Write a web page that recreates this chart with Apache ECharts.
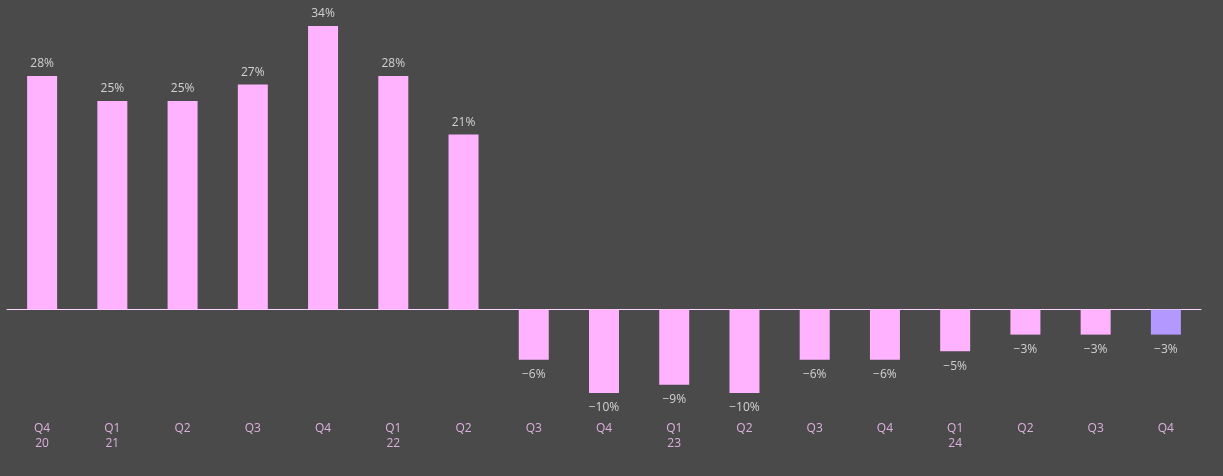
<!DOCTYPE html>
<html>
<head>
<meta charset="utf-8">
<script src="https://cdn.jsdelivr.net/npm/echarts@6/dist/echarts.min.js"></script>
<style>
html,body{margin:0;padding:0;background:#4a4a4a;}
#chart{width:1223px;height:476px;}
</style>
</head>
<body>
<div id="chart"></div>
<script>
const categories = ["Q4\n20","Q1\n21","Q2","Q3","Q4","Q1\n22","Q2","Q3","Q4","Q1\n23","Q2","Q3","Q4","Q1\n24","Q2","Q3","Q4"];
const values = [28,25,25,27,34,28,21,-6,-10,-9,-10,-6,-6,-5,-3,-3,-3];
const highlightIndex = 16;
const barColor = '#ffb3ff';
const highlightColor = '#b399ff';

const chart = echarts.init(document.getElementById('chart'));
const data = values.map((v, i) => ({
  value: v,
  itemStyle: { color: i === highlightIndex ? highlightColor : barColor },
  label: { position: v >= 0 ? 'top' : 'bottom', distance: v >= 0 ? 6 : 9 }
}));
chart.setOption({
  backgroundColor: '#4a4a4a',
  animation: false,
  grid: { left: 7, right: 22, top: 26, bottom: 83, containLabel: false, outerBoundsMode: 'none' },
  xAxis: {
    type: 'category',
    data: categories,
    axisLine: { onZero: true, lineStyle: { color: '#ffd6ff', width: 1 } },
    axisTick: { show: false },
    axisLabel: {
      color: '#dcb0dc',
      fontFamily: 'Open Sans',
      fontSize: 12,
      lineHeight: 15,
      margin: 28
    }
  },
  yAxis: {
    type: 'value',
    min: -10,
    max: 34,
    show: false,
    splitLine: { show: false }
  },
  series: [{
    type: 'bar',
    data: data,
    barWidth: 30,
    label: {
      show: true,
      color: '#d2d2d2',
      fontFamily: 'Open Sans',
      fontSize: 12,
      formatter: p => (p.value < 0 ? '\u2212' + Math.abs(p.value) : p.value) + '%'
    }
  }]
});
</script>
</body>
</html>
